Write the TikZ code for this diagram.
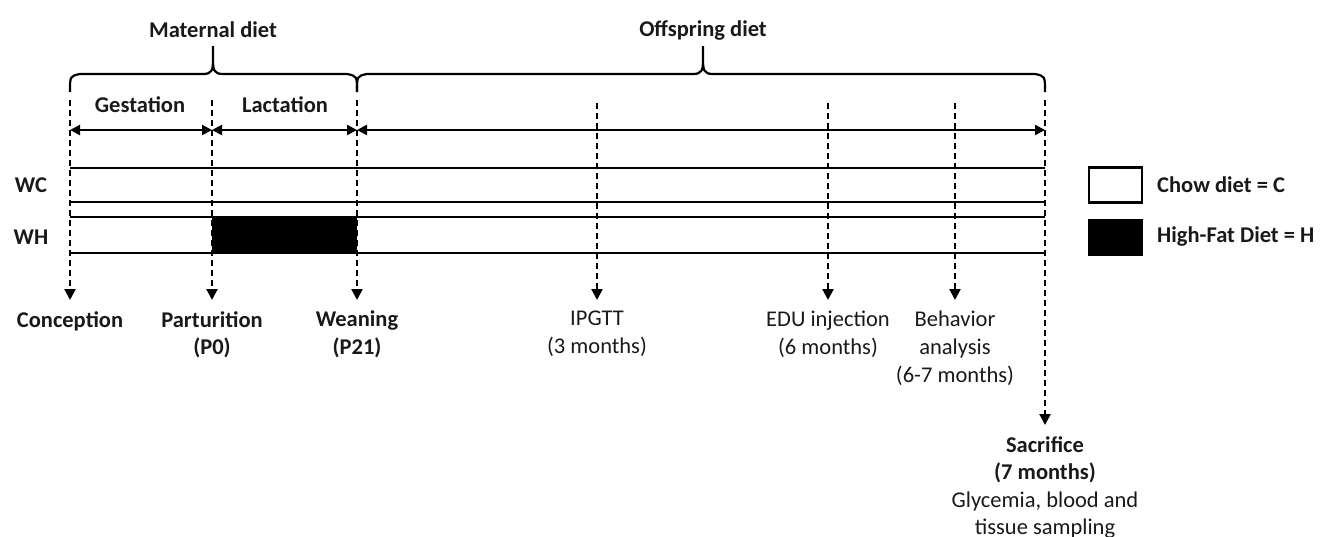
\documentclass[tikz,border=0pt]{standalone}
\usepackage{fontspec}
\setmainfont{Carlito}
\usetikzlibrary{arrows.meta}
\begin{document}
\begin{tikzpicture}[x=1pt,y=-1pt,
  every node/.style={font=\fontsize{22.5}{27.6}\selectfont, align=center, inner sep=0pt, text=black!90},
  bold/.style={font=\fontsize{22.5}{27.6}\selectfont\bfseries},
  line/.style={line width=2.2pt},
  darrow/.style={line width=2.2pt, {Triangle[length=10pt,width=10pt]}-{Triangle[length=10pt,width=10pt]}},
  dasharrow/.style={line width=2.2pt, dash pattern=on 6pt off 4pt, -{Triangle[length=11pt,width=11pt]}},
  lbl/.style={anchor=north, inner ysep=11pt}]
\useasboundingbox (0,0) rectangle (1321,536);

% titles
\node[bold] (maternal) at (213,30) {Maternal diet};
\node[bold] (offspring) at (703,30) {Offspring diet};
\node[bold] (gest) at (140,105) {Gestation};
\node[bold] (lact) at (285,105) {Lactation};
\node[bold] (wc) at (31,185) {WC};
\node[bold] (wh) at (31,237) {WH};

% braces
\draw[line] (70,92) .. controls (70,76) .. (80,74) -- (203,74)
  .. controls (212,74) and (213,70) .. (213,60) -- (213,46)
  (213,60) .. controls (213,70) and (214,74) .. (223,74) -- (347,74)
  .. controls (357,76) .. (357,92);
\draw[line] (357,92) .. controls (357,76) .. (367,74) -- (693,74)
  .. controls (702,74) and (703,70) .. (703,60) -- (703,46)
  (703,60) .. controls (703,70) and (704,74) .. (713,74) -- (1035,74)
  .. controls (1045,76) .. (1045,92);

% bars
\fill (212,217) rectangle (357,253);
\draw[line] (70,168) -- (1045,168);
\draw[line] (70,202) -- (1045,202);
\draw[line] (70,217) -- (1045,217);
\draw[line] (70,253) -- (1045,253);

% period arrows
\coordinate (a1) at (70,130);
\coordinate (a2) at (212,130);
\coordinate (a3) at (357,130);
\coordinate (a4) at (1045,130);
\draw[darrow] (a1) -- (a2);
\draw[darrow] (a2) -- (a3);
\draw[darrow] (a3) -- (a4);

% legend
\node[draw, line width=2.2pt, minimum width=53pt, minimum height=35pt] (chowbox) at (1115.5,185) {};
\node[fill=black, minimum width=55pt, minimum height=37pt] (hfbox) at (1115.5,237.5) {};
\node[bold, anchor=west] (chowtxt) at (1157,185) {Chow diet = C};
\node[bold, anchor=west] (hftxt) at (1157,237) {High-Fat Diet = H};

% bottom labels
\node[bold,lbl] (conc) at (70,300) {Conception};
\node[bold,lbl] (part) at (212,300) {Parturition\\(P0)};
\node[bold,lbl] (wean) at (357,300) {Weaning\\(P21)};
\node[lbl] (ipgtt) at (597,300) {IPGTT\\(3 months)};
\node[lbl] (edu) at (828,300) {EDU injection\\(6 months)};
\node[lbl] (beh) at (955,300) {Behavior\\analysis\\(6-7 months)};
\node[lbl] (sac) at (1045,425) {\textbf{Sacrifice}\\\textbf{(7 months)}\\Glycemia, blood and\\tissue sampling};

% event arrows
\coordinate (t1) at (70,100);
\coordinate (t2) at (212,100);
\coordinate (t3) at (357,100);
\coordinate (t4) at (597,103);
\coordinate (t5) at (828,103);
\coordinate (t6) at (955,103);
\coordinate (t7) at (1045,100);
\draw[dasharrow] (t1) -- (conc.north);
\draw[dasharrow] (t2) -- (part.north);
\draw[dasharrow] (t3) -- (wean.north);
\draw[dasharrow] (t4) -- (ipgtt.north);
\draw[dasharrow] (t5) -- (edu.north);
\draw[dasharrow] (t6) -- (beh.north);
\draw[dasharrow] (t7) -- (sac.north);
\end{tikzpicture}
\end{document}
